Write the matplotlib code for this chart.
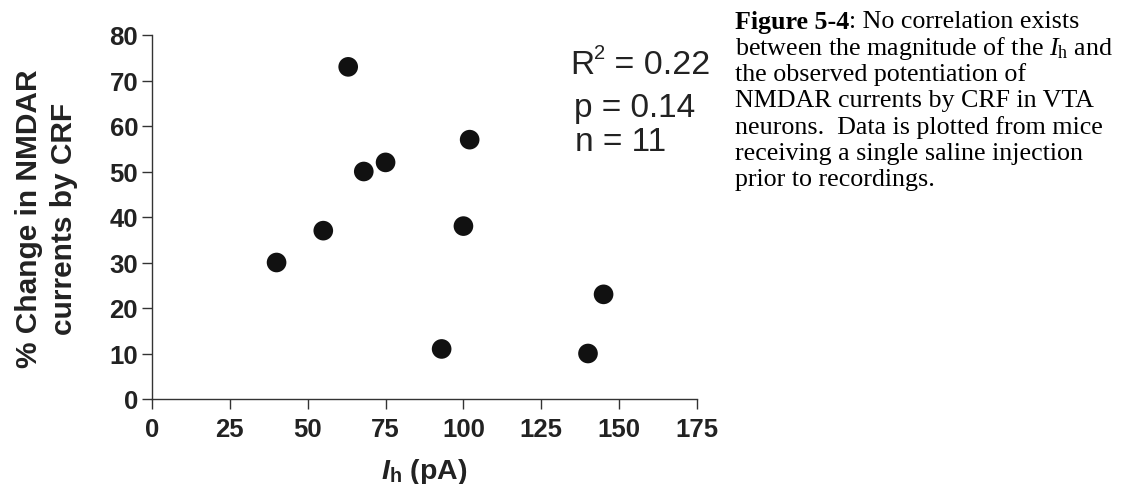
import matplotlib
matplotlib.use("Agg")
import matplotlib.pyplot as plt

# ---- data ----
ih_pA = [40, 55, 63, 68, 75, 93, 100, 102, 140, 145]
pct_change = [30, 37, 73, 50, 52, 11, 38, 57, 10, 23]
x_ticks = [0, 25, 50, 75, 100, 125, 150, 175]
y_ticks = [0, 10, 20, 30, 40, 50, 60, 70, 80]
r2_text = ("R", "2", " = 0.22")
stats_lines = ["p = 0.14", "n = 11"]
ylabel_lines = ["% Change in NMDAR", "currents by CRF"]
caption_head = ("Figure 5-4", ": No correlation exists")
caption_lines = [
    "between the magnitude of the $\\mathit{I}_{\\mathrm{h}}$ and",
    "the observed potentiation of",
    "NMDAR currents by CRF in VTA",
    "neurons.  Data is plotted from mice",
    "receiving a single saline injection",
    "prior to recordings.",
]

plt.rcParams["mathtext.fontset"] = "custom"
plt.rcParams["mathtext.rm"] = "Liberation Serif"
plt.rcParams["mathtext.it"] = "Liberation Serif:italic"
plt.rcParams["mathtext.bf"] = "Liberation Serif:bold"
plt.rcParams["mathtext.sf"] = "Liberation Sans:bold:italic"
plt.rcParams["mathtext.tt"] = "Liberation Sans:bold"

W, H = 1129, 485
fig = plt.figure(figsize=(W / 100, H / 100), dpi=100)


def fx(p):
    return p / W


def fy(p):
    return 1 - p / H


ax = fig.add_axes([fx(152), fy(400), fx(697) - fx(152), fy(36) - fy(400)])
ax.scatter(ih_pA, pct_change, s=200, color="#111111", edgecolors="none", zorder=3, clip_on=False)
ax.set_xlim(0, 175)
ax.set_ylim(0, 80)
ax.set_xticks(x_ticks)
ax.set_yticks(y_ticks)
for s in ["top", "right"]:
    ax.spines[s].set_visible(False)
for s in ["left", "bottom"]:
    ax.spines[s].set_linewidth(1.0)
    ax.spines[s].set_color("#333333")
ax.tick_params(axis="both", length=7, width=1.0, color="#333333", direction="out")
ax.tick_params(axis="x", pad=6)
ax.tick_params(axis="y", pad=3)
for lab in ax.get_xticklabels() + ax.get_yticklabels():
    lab.set_fontfamily("Liberation Sans")
    lab.set_fontweight("bold")
    lab.set_fontsize(18.5)
    lab.set_color("#222222")

# x label
fig.text(fx(424), fy(479), "$\\mathsf{I}_{\\mathtt{h}}$ (pA)", ha="center", va="baseline",
         family="Liberation Sans", weight="bold", fontsize=20.5, color="#222222")

# y label (two lines)
for xb, line in zip([37, 72], ylabel_lines):
    fig.text(fx(xb), fy(218.5), line, rotation=90, rotation_mode="anchor", ha="center",
             va="baseline", family="Liberation Sans", weight="bold", fontsize=21.5, color="#222222")

# stats
st = dict(family="Liberation Sans", color="#222222", ha="left", va="baseline")
tR = fig.text(fx(570), fy(74), r2_text[0], fontsize=24, **st)
t2 = ax.annotate(r2_text[1], xy=(1, fy(59)), xycoords=(tR, "figure fraction"),
                 fontsize=14.5, annotation_clip=False, **st)
ax.annotate(r2_text[2], xy=(1, fy(74)), xycoords=(t2, "figure fraction"),
            fontsize=24.5, annotation_clip=False, **st)
for (xs, yb), line in zip([(574, 117), (575, 151)], stats_lines):
    fig.text(fx(xs), fy(yb), line, fontsize=24, **st)

# caption
cap_size = 18.7
t1 = fig.text(fx(735), fy(28.5), caption_head[0], ha="left", va="baseline",
              family="Liberation Serif", weight="bold", fontsize=cap_size, color="black")
ax.annotate(caption_head[1], xy=(1, fy(28.5)), xycoords=(t1, "figure fraction"),
            ha="left", va="baseline", family="Liberation Serif", fontsize=cap_size,
            color="black", annotation_clip=False)
for i, line in enumerate(caption_lines):
    fig.text(fx(735), fy(55 + i * 26.2), line, ha="left", va="baseline",
             family="Liberation Serif", fontsize=cap_size, color="black")

fig.savefig("out.png", dpi=100)
